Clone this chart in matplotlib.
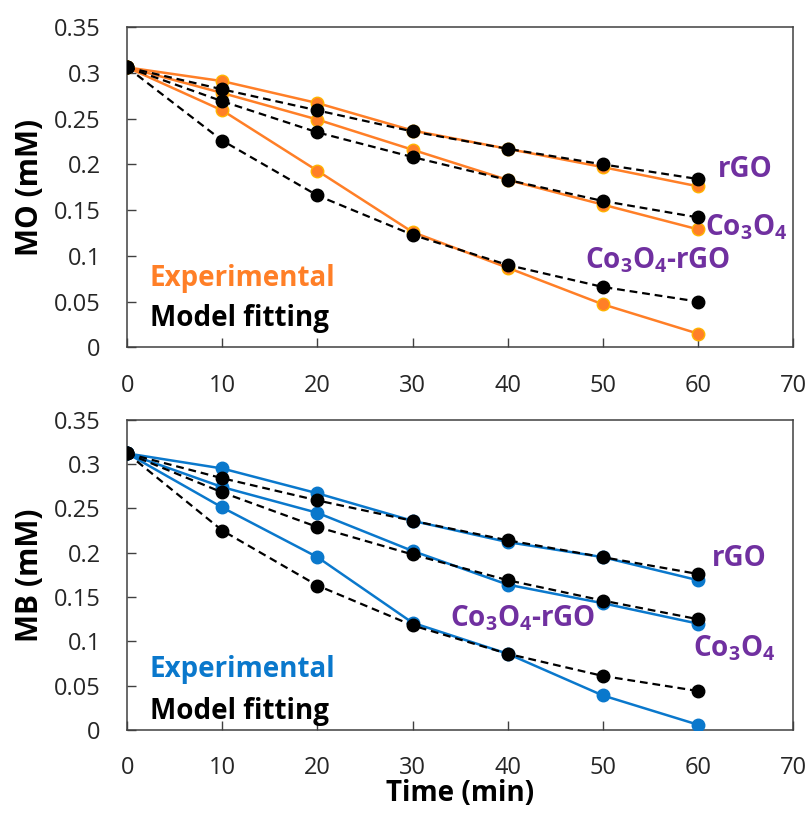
import matplotlib
matplotlib.use("Agg")
import matplotlib.pyplot as plt

plt.rcParams['font.family'] = ['Open Sans', 'DejaVu Sans']
plt.rcParams['mathtext.fontset'] = 'custom'
plt.rcParams['mathtext.rm'] = 'Open Sans:bold'
plt.rcParams['mathtext.it'] = 'Open Sans:bold'
plt.rcParams['mathtext.bf'] = 'Open Sans:bold'

time_min = [0, 10, 20, 30, 40, 50, 60]
materials = ['rGO', 'Co3O4', 'Co3O4-rGO']

# Methyl orange (MO) concentration, mM
mo_exp_rgo = [0.306, 0.291, 0.267, 0.237, 0.217, 0.197, 0.176]
mo_exp_co3o4 = [0.306, 0.278, 0.249, 0.216, 0.183, 0.156, 0.129]
mo_exp_composite = [0.306, 0.259, 0.193, 0.126, 0.087, 0.047, 0.015]
mo_fit_rgo = [0.306, 0.282, 0.259, 0.236, 0.217, 0.200, 0.184]
mo_fit_co3o4 = [0.306, 0.269, 0.235, 0.208, 0.183, 0.160, 0.142]
mo_fit_composite = [0.306, 0.226, 0.166, 0.123, 0.090, 0.066, 0.050]

# Methylene blue (MB) concentration, mM
mb_exp_rgo = [0.312, 0.295, 0.267, 0.236, 0.212, 0.195, 0.169]
mb_exp_co3o4 = [0.312, 0.274, 0.245, 0.202, 0.164, 0.143, 0.120]
mb_exp_composite = [0.312, 0.251, 0.195, 0.121, 0.086, 0.039, 0.006]
mb_fit_rgo = [0.312, 0.284, 0.259, 0.236, 0.214, 0.195, 0.176]
mb_fit_co3o4 = [0.312, 0.268, 0.229, 0.198, 0.169, 0.146, 0.125]
mb_fit_composite = [0.312, 0.225, 0.163, 0.118, 0.086, 0.061, 0.044]

y_ticks = [0, 0.05, 0.1, 0.15, 0.2, 0.25, 0.3, 0.35]
y_tick_labels = ['0', '0.05', '0.1', '0.15', '0.2', '0.25', '0.3', '0.35']
x_ticks = [0, 10, 20, 30, 40, 50, 60, 70]

ORANGE = '#FF7F27'
ORANGE_EDGE = '#FFB300'
BLUE = '#0A78CC'
PURPLE = '#7030A0'
AXIS_GRAY = '#404040'

fig = plt.figure(figsize=(8.10, 8.23), dpi=100)
ax_mo = fig.add_axes([0.157, 0.578, 0.822, 0.389])
ax_mb = fig.add_axes([0.157, 0.113, 0.822, 0.377])


def style_axes(ax, ylabel):
    ax.set_xlim(0, 70)
    ax.set_ylim(0, 0.35)
    ax.set_xticks(x_ticks)
    ax.set_yticks(y_ticks)
    ax.set_yticklabels(y_tick_labels)
    ax.tick_params(direction='in', length=6.5, width=1.0, color=AXIS_GRAY,
                   labelsize=17, labelcolor='#262626', pad=19)
    ax.tick_params(axis='x', top=False, pad=19)
    ax.tick_params(axis='y', right=False)
    for sp in ax.spines.values():
        sp.set_color(AXIS_GRAY)
        sp.set_linewidth(1.1)
    ax.set_ylabel(ylabel, fontsize=21.5, fontweight='bold')
    ax.yaxis.set_label_coords(-0.123, 0.5)


def draw_panel(ax, exp_series, fit_series, color, edge):
    for ys in exp_series:
        ax.plot(time_min, ys, '-', color=color, lw=1.8, marker='o', ms=9,
                mfc=color, mec=edge, mew=1.0, zorder=3)
    for ys in fit_series:
        ax.plot(time_min, ys, '--', color='black', lw=1.6, dashes=(3.5, 2.2),
                marker='o', ms=9, mfc='black', mec='black', zorder=4)


draw_panel(ax_mo, [mo_exp_rgo, mo_exp_co3o4, mo_exp_composite],
           [mo_fit_rgo, mo_fit_co3o4, mo_fit_composite], ORANGE, ORANGE_EDGE)
draw_panel(ax_mb, [mb_exp_rgo, mb_exp_co3o4, mb_exp_composite],
           [mb_fit_rgo, mb_fit_co3o4, mb_fit_composite], BLUE, BLUE)

style_axes(ax_mo, 'MO (mM)')
style_axes(ax_mb, 'MB (mM)')
ax_mb.set_xlabel('Time (min)', fontsize=20, fontweight='bold')
ax_mb.xaxis.set_label_coords(0.5, -0.158)

co3o4 = 'Co$_{3}$O$_{4}$'
label_kw = dict(color=PURPLE, fontsize=20, fontweight='bold', va='center')

# MO panel annotations
ax_mo.text(62.1, 0.194, 'rGO', ha='left', **label_kw)
ax_mo.text(60.75, 0.131, co3o4, ha='left', **label_kw)
ax_mo.text(48.1, 0.095, co3o4 + '-rGO', ha='left', **label_kw)
ax_mo.text(2.4, 0.075, 'Experimental', color=ORANGE, fontsize=20,
           fontweight='bold', va='center')
ax_mo.text(2.4, 0.031, 'Model fitting', color='black', fontsize=20,
           fontweight='bold', va='center')

# MB panel annotations
ax_mb.text(61.5, 0.194, 'rGO', ha='left', **label_kw)
ax_mb.text(33.95, 0.126, co3o4 + '-rGO', ha='left', **label_kw)
ax_mb.text(59.5, 0.092, co3o4, ha='left', **label_kw)
ax_mb.text(2.4, 0.068, 'Experimental', color=BLUE, fontsize=20,
           fontweight='bold', va='center')
ax_mb.text(2.4, 0.021, 'Model fitting', color='black', fontsize=20,
           fontweight='bold', va='center')

fig.savefig('out.png', dpi=100)
